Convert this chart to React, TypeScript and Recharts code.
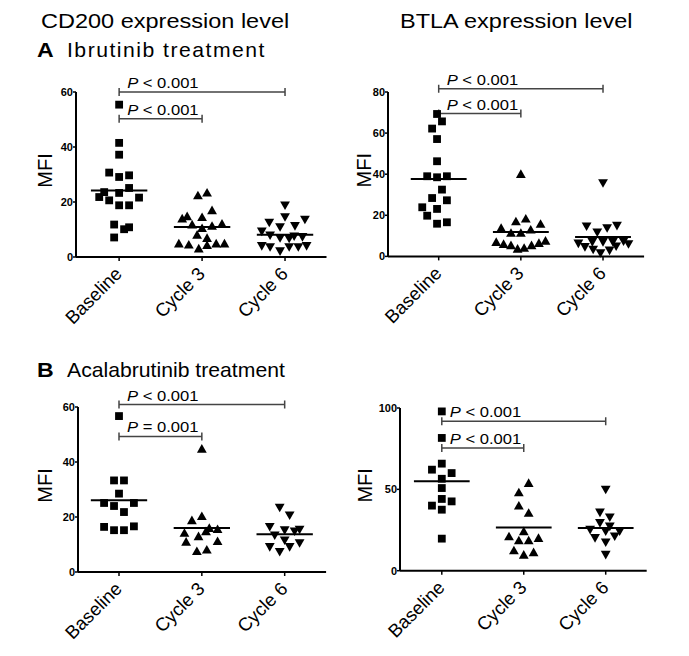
import React from 'react';
import { ScatterChart, Scatter, XAxis, YAxis, ReferenceLine } from 'recharts';

const FONT = '"Liberation Sans", Arial, Helvetica, sans-serif';

// ---------- labels ----------
const categories = ['Baseline', 'Cycle 3', 'Cycle 6'];
const columnTitles = ['CD200 expression level', 'BTLA expression level'];
const rowLetters = ['A', 'B'];
const rowTitles = ['Ibrutinib treatment', 'Acalabrutinib treatment'];
const axisTitle = 'MFI';

// ---------- A: ibrutinib, CD200 ----------
const ibrCd200Base = [55.4, 41.5, 37.2, 30.7, 29.1, 29.7, 23.6, 21.8, 20.6, 23.3, 25.1, 21.6, 18.8, 18.8, 11.8, 10.1, 10.8, 7.1];
const ibrCd200BaseSpread = [0, 0, 0, -0.12, 0, 0.12, -0.18, -0.24, -0.12, 0, 0.12, 0.24, 0, 0.12, -0.06, 0.06, 0.12, -0.06];
const ibrCd200C3 = [22.4, 23.4, 17.0, 14.0, 14.8, 14.5, 11.8, 10.5, 11.3, 12.1, 8.1, 6.9, 4.9, 4.5, 3.1, 4.3, 4.9, 4.9];
const ibrCd200C3Spread = [-0.05, 0.06, 0.12, -0.24, -0.18, 0, -0.12, 0, 0.12, 0.24, -0.06, 0.06, -0.28, -0.16, -0.04, 0.06, 0.17, 0.27];
const ibrCd200C6 = [18.8, 14.5, 12.5, 10.9, 11.3, 13.6, 9.3, 7.9, 6.9, 6.7, 7.5, 7.3, 4.0, 3.6, 2.1, 3.6, 3.6, 4.0];
const ibrCd200C6Spread = [0, 0, -0.19, -0.06, 0.12, 0.24, -0.28, -0.18, -0.06, 0.05, 0.11, 0.21, -0.28, -0.18, -0.06, 0.05, 0.16, 0.26];
const ibrCd200Medians = [24.2, 10.9, 8.1];

// ---------- A: ibrutinib, BTLA ----------
const ibrBtlaBase = [69.3, 65.7, 62.2, 57.1, 46.3, 39.0, 38.5, 39.0, 32.5, 28.4, 27.3, 23.9, 23.1, 19.8, 15.9, 16.6];
const ibrBtlaBaseSpread = [-0.02, 0.04, -0.08, -0.02, -0.02, -0.14, -0.02, 0.1, 0.04, -0.08, 0.1, -0.2, -0.02, -0.14, -0.02, 0.1];
const ibrBtlaC3 = [40.1, 17.0, 18.4, 15.8, 13.8, 11.4, 11.4, 13.0, 7.0, 6.0, 5.4, 3.7, 4.1, 5.4, 6.5, 7.6];
const ibrBtlaC3Spread = [0, -0.06, 0.06, 0.24, -0.24, -0.12, 0, 0.12, -0.3, -0.21, -0.12, -0.04, 0.04, 0.13, 0.22, 0.3];
const ibrBtlaC6 = [35.7, 14.6, 11.7, 13.8, 14.9, 6.3, 4.6, 7.0, 7.0, 7.0, 7.3, 4.9, 6.0, 3.3, 1.6, 2.9];
const ibrBtlaC6Spread = [0, -0.2, -0.07, 0.05, 0.17, -0.3, -0.22, -0.13, 0, 0.12, 0.25, 0.16, 0.31, -0.12, -0.03, 0.08];
const ibrBtlaMedians = [37.7, 11.9, 9.4];

// ---------- B: acalabrutinib, CD200 ----------
const acaCd200Base = [56.7, 33.3, 33.3, 28.5, 25.1, 24.0, 25.1, 21.8, 16.4, 15.2, 15.2, 16.6];
const acaCd200BaseSpread = [0, -0.06, 0.06, 0, -0.18, -0.06, 0.18, 0.06, -0.18, -0.06, 0.06, 0.18];
const acaCd200C3 = [44.8, 18.8, 20.3, 14.2, 16.0, 15.6, 11.0, 13.0, 11.2, 7.6, 8.1, 14.8];
const acaCd200C3Spread = [0, -0.12, 0, -0.21, 0.09, 0.19, -0.19, -0.04, 0.19, -0.06, 0.06, 0.05];
const acaCd200C6 = [23.4, 20.6, 16.4, 15.2, 14.8, 15.4, 13.3, 11.5, 10.5, 9.1, 9.1, 7.3];
const acaCd200C6Spread = [-0.06, 0.06, -0.18, 0, 0.12, 0.18, -0.12, 0, 0.18, -0.18, 0.06, -0.06];
const acaCd200Medians = [26.1, 16.0, 13.7];

// ---------- B: acalabrutinib, BTLA ----------
const acaBtlaBase = [97.9, 81.6, 65.8, 62.1, 60.0, 56.5, 50.8, 44.1, 42.6, 40.0, 37.5, 19.7];
const acaBtlaBaseSpread = [0, 0, 0, -0.12, 0.12, 0, 0, 0, 0.12, -0.12, 0, 0];
const acaBtlaC3 = [53.9, 48.1, 40.0, 35.5, 24.2, 21.1, 18.6, 18.6, 20.1, 12.5, 9.8, 11.3];
const acaBtlaC3Spread = [0.06, -0.06, -0.06, 0.06, 0, -0.18, -0.06, 0.06, 0.18, -0.12, 0, 0.12];
const acaBtlaC6 = [49.8, 35.8, 32.8, 29.3, 27.2, 25.2, 24.2, 24.2, 20.1, 21.1, 17.4, 9.8];
const acaBtlaC6Spread = [0, -0.07, 0.05, -0.07, 0.05, -0.19, 0, 0.17, -0.13, 0.11, 0, 0];
const acaBtlaMedians = [54.9, 26.6, 26.2];

// ---------- comparisons ----------
const ibrCd200Brackets = [
  { to: 2, level: 60, sign: '<', p: '0.001' },
  { to: 1, level: 50.3, sign: '<', p: '0.001' },
];
const ibrBtlaBrackets = [
  { to: 2, level: 81.6, sign: '<', p: '0.001' },
  { to: 1, level: 69.5, sign: '<', p: '0.001' },
];
const acaCd200Brackets = [
  { to: 2, level: 60.9, sign: '<', p: '0.001' },
  { to: 1, level: 49.3, sign: '=', p: '0.001' },
];
const acaBtlaBrackets = [
  { to: 2, level: 91.8, sign: '<', p: '0.001' },
  { to: 1, level: 75.4, sign: '<', p: '0.001' },
];

const toPoints = (g: number, values: number[], spread: number[]) =>
  values.map((v, i) => ({ x: g + spread[i], y: v }));

// ---------- marker shapes ----------
const Square = (p: any) => (
  <rect x={p.cx - 3.9} y={p.cy - 3.9} width={7.8} height={7.8} fill="#000" />
);
const TriUp = (p: any) => (
  <polygon
    points={`${p.cx},${p.cy - 4.7} ${p.cx + 4.9},${p.cy + 3.9} ${p.cx - 4.9},${p.cy + 3.9}`}
    fill="#000"
  />
);
const TriDown = (p: any) => (
  <polygon
    points={`${p.cx},${p.cy + 4.7} ${p.cx + 4.9},${p.cy - 3.9} ${p.cx - 4.9},${p.cy - 3.9}`}
    fill="#000"
  />
);
const shapes = [Square, TriUp, TriDown];

const XTick = (p: any) => {
  const { x, y, payload } = p;
  const tx = x + 4;
  const ty = y + 12;
  return (
    <text
      x={tx}
      y={ty}
      transform={`rotate(-45 ${tx} ${ty})`}
      textAnchor="end"
      fontSize={18.5}
      fontFamily={FONT}
      fill="#000"
    >
      {categories[payload.value]}
    </text>
  );
};

const makeBracketShape = (sign: string, p: string) => (props: any) => {
  const { x1, y1, x2, y2 } = props;
  const d = `M${x1},${y1 - 4}V${y1 + 4}M${x1},${y1}H${x2}M${x2},${y2 - 4}V${y2 + 4}`;
  return (
    <g>
      <path d={d} stroke="#444" strokeWidth={1.5} fill="none" />
      <text
        transform={`translate(${x1 + 8},${y1 - 4}) scale(1.07,1)`}
        fontSize={15.5}
        fontFamily={FONT}
        fill="#000"
      >
        <tspan fontStyle="italic">P</tspan>
        {` ${sign} ${p}`}
      </text>
    </g>
  );
};

type PanelCfg = {
  plotLeft: number;
  plotTop: number;
  plotRight: number;
  plotBottom: number;
  xMin: number;
  yMax: number;
  yTicks: number[];
  mfiOffset: number;
  groups: { values: number[]; spread: number[] }[];
  medians: number[];
  brackets: { to: number; level: number; sign: string; p: string }[];
};

const L = 70;
const T = 40;
const R = 12;
const B = 80;

const Panel = ({ cfg }: { cfg: PanelCfg }) => {
  const plotW = cfg.plotRight - cfg.plotLeft;
  const plotH = cfg.plotBottom - cfg.plotTop;
  const width = L + plotW + R;
  const height = T + plotH + B;
  const mfiX = L - cfg.mfiOffset;
  const mfiY = T + plotH / 2 - 4;
  return (
    <div style={{ position: 'absolute', left: cfg.plotLeft - L, top: cfg.plotTop - T }}>
      <ScatterChart width={width} height={height} margin={{ top: T, right: R, bottom: 0, left: 30 }}>
        <XAxis
          type="number"
          dataKey="x"
          domain={[cfg.xMin, 2.5]}
          ticks={[0, 1, 2]}
          interval={0}
          height={B}
          tick={<XTick />}
          tickSize={4}
          tickMargin={2}
          axisLine={{ stroke: '#000', strokeWidth: 2 }}
          tickLine={{ stroke: '#000', strokeWidth: 1.5 }}
        />
        <YAxis
          type="number"
          dataKey="y"
          domain={[0, cfg.yMax]}
          ticks={cfg.yTicks}
          interval={0}
          width={40}
          tickSize={3}
          tickMargin={0}
          tick={{ fontSize: 11, fontWeight: 'bold', fill: '#000', fontFamily: FONT }}
          axisLine={{ stroke: '#000', strokeWidth: 2 }}
          tickLine={{ stroke: '#000', strokeWidth: 1.5 }}
          label={{
            content: () => (
              <text
                x={mfiX}
                y={mfiY}
                transform={`rotate(-90 ${mfiX} ${mfiY})`}
                textAnchor="middle"
                dominantBaseline="central"
                fontSize={20}
                fontFamily={FONT}
                fill="#000"
              >
                {axisTitle}
              </text>
            ),
          }}
        />
        {cfg.groups.map((g, gi) => (
          <Scatter
            key={gi}
            data={toPoints(gi, g.values, g.spread)}
            shape={shapes[gi]}
            fill="#000"
            isAnimationActive={false}
          />
        ))}
        {cfg.medians.map((m, gi) => (
          <ReferenceLine
            key={`m${gi}`}
            segment={[
              { x: gi - 0.34, y: m },
              { x: gi + 0.34, y: m },
            ]}
            stroke="#000"
            strokeWidth={2}
            ifOverflow="visible"
          />
        ))}
        {cfg.brackets.map((b, bi) => (
          <ReferenceLine
            key={`b${bi}`}
            segment={[
              { x: 0, y: b.level },
              { x: b.to, y: b.level },
            ]}
            ifOverflow="visible"
            shape={makeBracketShape(b.sign, b.p)}
          />
        ))}
      </ScatterChart>
    </div>
  );
};

const panels: PanelCfg[] = [
  {
    plotLeft: 76,
    plotTop: 91.7,
    plotRight: 326.5,
    plotBottom: 256.7,
    xMin: -0.52,
    yMax: 60,
    yTicks: [0, 20, 40, 60],
    mfiOffset: 31,
    groups: [
      { values: ibrCd200Base, spread: ibrCd200BaseSpread },
      { values: ibrCd200C3, spread: ibrCd200C3Spread },
      { values: ibrCd200C6, spread: ibrCd200C6Spread },
    ],
    medians: ibrCd200Medians,
    brackets: ibrCd200Brackets,
  },
  {
    plotLeft: 388.3,
    plotTop: 92.3,
    plotRight: 644.4,
    plotBottom: 256.7,
    xMin: -0.617,
    yMax: 80,
    yTicks: [0, 20, 40, 60, 80],
    mfiOffset: 24,
    groups: [
      { values: ibrBtlaBase, spread: ibrBtlaBaseSpread },
      { values: ibrBtlaC3, spread: ibrBtlaC3Spread },
      { values: ibrBtlaC6, spread: ibrBtlaC6Spread },
    ],
    medians: ibrBtlaMedians,
    brackets: ibrBtlaBrackets,
  },
  {
    plotLeft: 78.3,
    plotTop: 406.7,
    plotRight: 326.4,
    plotBottom: 571.7,
    xMin: -0.495,
    yMax: 60,
    yTicks: [0, 20, 40, 60],
    mfiOffset: 33,
    groups: [
      { values: acaCd200Base, spread: acaCd200BaseSpread },
      { values: acaCd200C3, spread: acaCd200C3Spread },
      { values: acaCd200C6, spread: acaCd200C6Spread },
    ],
    medians: acaCd200Medians,
    brackets: acaCd200Brackets,
  },
  {
    plotLeft: 400,
    plotTop: 408.3,
    plotRight: 646.7,
    plotBottom: 571,
    xMin: -0.51,
    yMax: 100,
    yTicks: [0, 50, 100],
    mfiOffset: 35,
    groups: [
      { values: acaBtlaBase, spread: acaBtlaBaseSpread },
      { values: acaBtlaC3, spread: acaBtlaC3Spread },
      { values: acaBtlaC6, spread: acaBtlaC6Spread },
    ],
    medians: acaBtlaMedians,
    brackets: acaBtlaBrackets,
  },
];

const Titles = () => (
  <svg width={689} height={656} style={{ position: 'absolute', left: 0, top: 0 }}>
    <text transform="translate(41,28) scale(1.12,1)" fontSize={21} fontFamily={FONT} fill="#000">
      {columnTitles[0]}
    </text>
    <text transform="translate(400,28) scale(1.12,1)" fontSize={21} fontFamily={FONT} fill="#000">
      {columnTitles[1]}
    </text>
    <text transform="translate(37,57) scale(1.1,1)" fontSize={21} fontWeight="bold" fontFamily={FONT} fill="#000">
      {rowLetters[0]}
    </text>
    <text transform="translate(67,57) scale(1.06,1)" fontSize={20} letterSpacing={1.4} fontFamily={FONT} fill="#000">
      {rowTitles[0]}
    </text>
    <text transform="translate(37,377) scale(1.1,1)" fontSize={21} fontWeight="bold" fontFamily={FONT} fill="#000">
      {rowLetters[1]}
    </text>
    <text transform="translate(67,377) scale(1.06,1)" fontSize={20} fontFamily={FONT} fill="#000">
      {rowTitles[1]}
    </text>
  </svg>
);

export default function App() {
  return (
    <div
      style={{
        position: 'absolute',
        left: 0,
        top: 0,
        width: 689,
        height: 656,
        background: '#fff',
        fontFamily: FONT,
        overflow: 'hidden',
      }}
    >
      <Titles />
      {panels.map((cfg, i) => (
        <Panel key={i} cfg={cfg} />
      ))}
    </div>
  );
}
